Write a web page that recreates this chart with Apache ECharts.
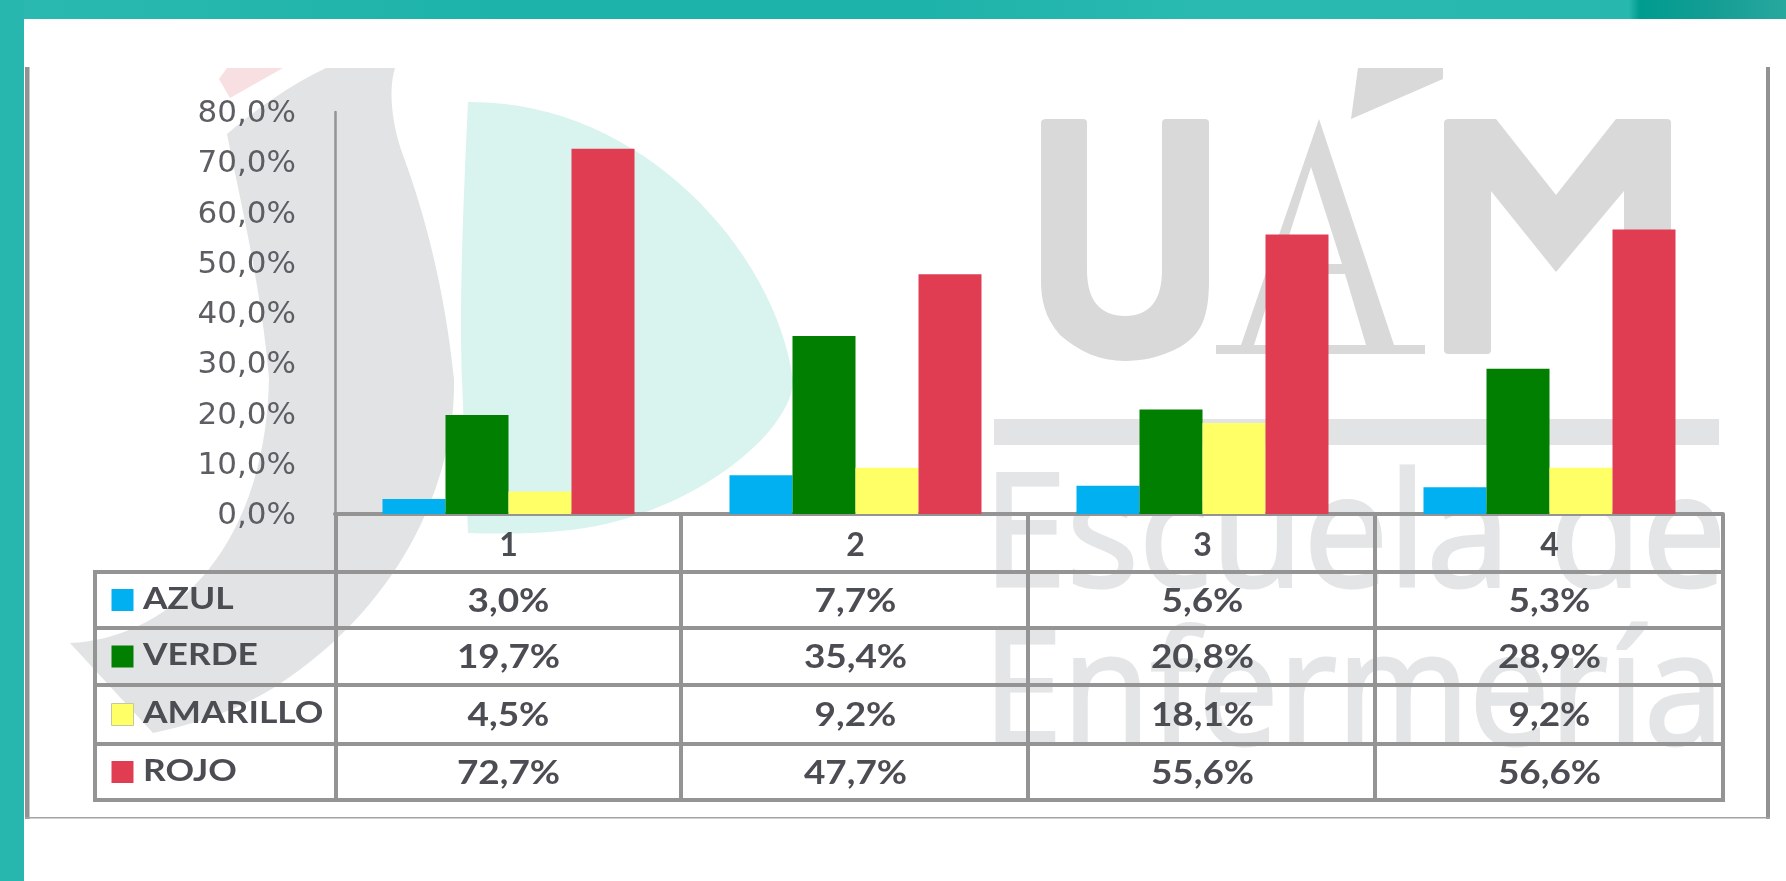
<!DOCTYPE html>
<html>
<head>
<meta charset="utf-8">
<style>
html,body{margin:0;padding:0;background:#fff;}
#chart{width:1786px;height:881px;}
</style>
<script src="https://cdn.jsdelivr.net/npm/echarts@6/dist/echarts.min.js"></script>
</head>
<body>
<div id="chart"></div>
<script>
// datos de la grafica
const categorias = ['1', '2', '3', '4'];
const azul = [3.0, 7.7, 5.6, 5.3];
const verde = [19.7, 35.4, 20.8, 28.9];
const amarillo = [4.5, 9.2, 18.1, 9.2];
const rojo = [72.7, 47.7, 55.6, 56.6];
const nombres = ['AZUL', 'VERDE', 'AMARILLO', 'ROJO'];
const colores = ['#00b0f0', '#007f00', '#ffff66', '#e03c52'];
const valores = [azul, verde, amarillo, rojo];

const LINEA = '#949494';
const TEXTO = '#4b4d53';
const FUENTE = 'Lato';
const pct = v => v.toFixed(1).replace('.', ',') + '%';

const myChart = echarts.init(document.getElementById('chart'), null, {renderer: 'canvas'});

const option = {
    backgroundColor: '#fff',
    animation: false,
    grid: {left: 335, top: 112, width: 1388, height: 402},
    xAxis: {
        type: 'category',
        data: categorias,
        axisTick: {show: false},
        axisLine: {lineStyle: {color: LINEA, width: 4}},
        axisLabel: {margin: 16, fontFamily: FUENTE, fontSize: 32, fontWeight: 'bold', color: TEXTO}
    },
    yAxis: {
        type: 'value',
        min: 0,
        max: 80,
        interval: 10,
        splitLine: {show: false},
        axisTick: {show: false},
        axisLine: {show: true, lineStyle: {color: LINEA, width: 2.5}},
        axisLabel: {
            margin: 39,
            formatter: v => '{a|' + pct(v) + '}',
            rich: {a: {padding: [4, 0, 0, 0], fontFamily: 'DejaVu Sans', fontSize: 31, color: '#5c5e63'}}
        }
    },
    series: nombres.map((n, i) => ({
        name: n,
        type: 'bar',
        data: valores[i],
        barWidth: 63,
        barGap: 0,
        itemStyle: {color: colores[i]}
    }))
};
myChart.setOption(option);

// fondo, marca de agua y tabla
function fondo() {
    const z = -5;
    return [
        {type: 'rect', z: z, shape: {x: 0, y: 0, width: 1786, height: 19}, style: {fill: new echarts.graphic.LinearGradient(0, 0, 1, 0, [
            {offset: 0, color: '#2bb9b0'}, {offset: 0.28, color: '#1db3aa'}, {offset: 0.52, color: '#1eb3aa'},
            {offset: 0.68, color: '#2abab2'}, {offset: 0.912, color: '#27b7ae'}, {offset: 0.918, color: '#009c90'},
            {offset: 0.96, color: '#159d94'}, {offset: 1, color: '#27a89f'}
        ])}},
        {type: 'rect', z: z, shape: {x: 0, y: 0, width: 24, height: 881}, style: {fill: '#27b7ae'}},
        // marco de la imagen
        {type: 'rect', z: z, shape: {x: 25, y: 67, width: 4.5, height: 752}, style: {fill: '#929292'}},
        {type: 'rect', z: z, shape: {x: 1766, y: 67, width: 4, height: 752}, style: {fill: '#929292'}},
        {type: 'rect', z: z, shape: {x: 25, y: 817, width: 1745, height: 1.5}, style: {fill: '#a3a3a3'}}
    ];
}

let nForma = 0;
function marcaAgua() {
    const z = -4;
    const p = (d, fill) => {
        const nombre = 'marca' + (nForma++);
        echarts.graphic.registerShape(nombre, echarts.graphic.extendPath(d, {}));
        return {type: nombre, z: z, style: {fill: fill}};
    };
    const gris = '#d9d9d9';
    const claro = '#e2e3e5';
    const letra = '#e4e5e7';
    return [
        p('M219 79 L227 68 L283 68 L230 98 Z', '#f8e0e2'),
        p('M326 68 L395 68 C388 90 392 125 403 155 C425 215 445 290 454 379 C456 470 410 600 275 687 C235 712 190 725 153 733 L70 643 C160 640 265 560 269 379 C262 290 240 200 227 134 C255 110 290 85 326 68 Z', claro),
        p('M468 102 C640 100 775 250 793 379 C795 430 690 520 561 531 C530 534 495 534 468 533 L462 379 C460 300 462 230 468 102 Z', '#d9f3ef'),
        // U
        p('M1041 123 Q1041 119 1046 119 L1083 119 Q1087 119 1087 123 L1087 270 C1087 300 1100 316 1125 316 C1150 316 1162 300 1162 270 L1162 123 Q1162 119 1166 119 L1205 119 Q1209 119 1209 123 L1209 280 C1209 320 1200 335 1180 347 C1160 358 1140 361 1125 361 C1100 361 1080 352 1060 335 C1045 318 1041 300 1041 280 Z', gris),
        // A
        p('M1319 119 L1394 345 L1425 345 L1425 354 L1216 354 L1216 345 L1241 345 Z M1311 167 L1254 345 L1366 345 L1345 274 L1290 274 L1293 264 L1342 264 Z', gris),
        p('M1358 68 L1443 68 L1443 79 L1351 119 Z', gris),
        // M
        p('M1444 123 Q1444 119 1449 119 L1496 119 L1556 195 L1616 119 L1667 119 Q1671 119 1671 123 L1671 350 Q1671 354 1667 354 L1628 354 Q1624 354 1624 350 L1624 191 L1556 272 L1491 191 L1491 350 Q1491 354 1487 354 L1449 354 Q1444 354 1444 350 Z', gris),
        {type: 'rect', z: z, shape: {x: 994, y: 419, width: 725, height: 26}, style: {fill: claro}},
        {type: 'text', z: z, x: 983, y: 462, scaleX: 0.955, style: {text: 'Escuela de', fontFamily: 'Open Sans', fontSize: 158, fill: letra, stroke: letra, lineWidth: 3, textAlign: 'left', verticalAlign: 'alphabetic'}},
        {type: 'text', z: z, x: 983, y: 620, scaleX: 0.905, style: {text: 'Enfermería', fontFamily: 'Open Sans', fontSize: 158, fill: letra, stroke: letra, lineWidth: 3, textAlign: 'left', verticalAlign: 'alphabetic'}}
    ];
}

function tabla() {
    const z = -3;
    const filas = [572, 628, 685, 744, 800];
    const cols = [336, 681, 1028, 1375, 1723];
    const izq = 95;
    const arriba = 514;
    const els = [];
    const linea = (x1, y1, x2, y2) => els.push({type: 'line', z: z, shape: {x1, y1, x2, y2}, style: {stroke: LINEA, lineWidth: 4}});
    filas.forEach(y => linea(izq, y, 1723, y));
    linea(izq, 570, izq, 802);
    cols.forEach(x => linea(x, arriba, x, 802));
    nombres.forEach((n, i) => {
        const cy = (filas[i] + filas[i + 1]) / 2;
        els.push({type: 'rect', z: z, shape: {x: 111.5, y: cy - 11, width: 22, height: 22}, style: {fill: colores[i], stroke: i === 2 ? '#c8c8a0' : null, lineWidth: 1}});
        els.push({type: 'text', z: z, x: 143, y: cy - 1, scaleX: 1.18, style: {text: n, fontFamily: FUENTE, fontSize: 30, fontWeight: 'bold', fill: TEXTO, textAlign: 'left', verticalAlign: 'middle'}});
        valores[i].forEach((v, j) => {
            const x = myChart.convertToPixel({xAxisIndex: 0}, categorias[j]);
            els.push({type: 'text', z: z, x: x, y: cy + 1, scaleX: 1.12, style: {text: pct(v), fontFamily: FUENTE, fontSize: 33, fontWeight: 'bold', fill: TEXTO, textAlign: 'center', verticalAlign: 'middle'}});
        });
    });
    return els;
}

myChart.setOption({graphic: {elements: fondo().concat(marcaAgua(), tabla())}});
</script>
</body>
</html>
